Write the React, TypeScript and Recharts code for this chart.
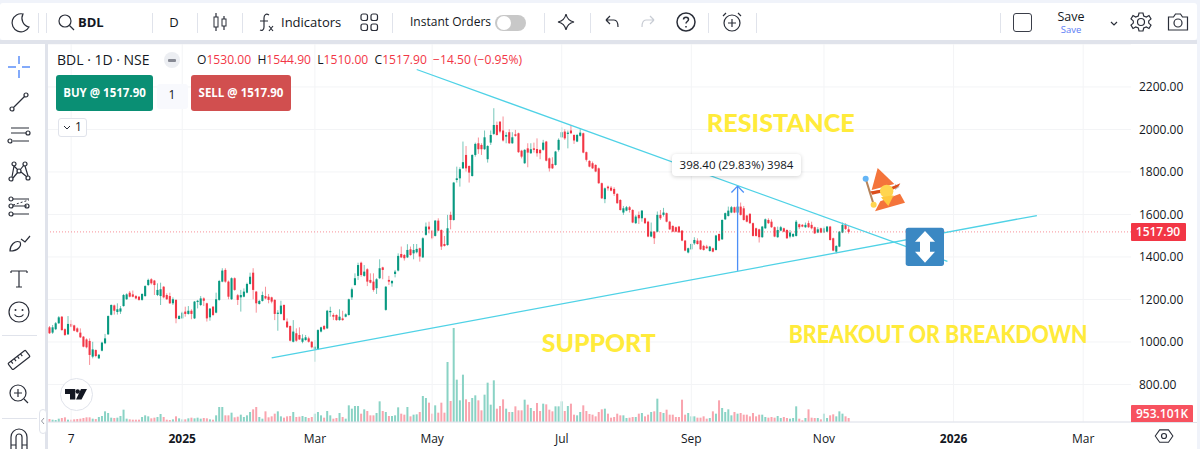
import { Bar, CartesianGrid, ComposedChart, ReferenceDot, ReferenceLine, XAxis, YAxis } from "recharts";

const opens = [
  1069,1044,1060,1088,1119,1060,1036,1085,1078,1064,1044,1025,1012,1005,931,962,923,959,994,1036,
  1128,1172,1141,1143,1169,1201,1232,1224,1216,1213,1198,1216,1268,1295,1289,1221,1216,1260,1221,1216,
  1182,1198,1108,1111,1143,1132,1147,1111,1188,1174,1205,1182,1116,1166,1138,1198,1284,1339,1284,1201,
  1300,1220,1210,1213,1232,1273,1326,1237,1179,1193,1216,1213,1210,1198,1132,1132,1174,1096,1075,1001,
  1041,1033,1001,1009,1017,1001,965,965,1049,1075,1064,1140,1127,1127,1103,1111,1119,1127,1210,1268,
  1311,1373,1311,1342,1292,1284,1253,1300,1351,1151,1292,1276,1320,1336,1414,1409,1398,1436,1417,1422,
  1441,1398,1504,1543,1524,1499,1571,1527,1461,1456,1598,1574,1762,1770,1817,1880,1828,1781,1880,1935,
  1927,1907,1860,1938,1979,2021,2037,1995,1966,1987,1935,1977,1982,1900,1841,1911,1888,1911,1908,1904,
  1904,1943,1864,1838,1833,1904,1963,1990,1979,1995,1974,1943,1970,1982,1893,1852,1841,1833,1817,1747,
  1672,1731,1726,1720,1697,1668,1609,1618,1634,1621,1559,1598,1582,1582,1566,1496,1519,1519,1598,1598,
  1606,1566,1546,1540,1543,1524,1477,1421,1436,1464,1477,1477,1452,1449,1428,1441,1433,1508,1483,1577,
  1593,1609,1634,1609,1637,1629,1595,1603,1559,1535,1530,1493,1535,1574,1566,1540,1493,1524,1535,1527,
  1496,1496,1499,1554,1551,1540,1559,1551,1540,1515,1535,1515,1519,1543,1488,1425,1449,1515,1551,1530,
];
const highs = [
  1075,1080,1094,1122,1122,1064,1122,1103,1081,1069,1064,1028,1017,1017,1001,965,943,1001,1038,1125,
  1177,1176,1182,1169,1226,1229,1240,1242,1221,1216,1229,1267,1298,1300,1292,1276,1279,1263,1229,1232,
  1210,1201,1127,1143,1166,1169,1154,1193,1198,1216,1210,1185,1160,1169,1232,1292,1347,1347,1289,1304,
  1304,1226,1245,1252,1279,1326,1347,1240,1198,1237,1260,1226,1213,1201,1150,1194,1177,1111,1078,1103,
  1064,1069,1036,1033,1025,1005,1009,1060,1072,1080,1151,1166,1135,1130,1154,1147,1135,1204,1256,1323,
  1373,1378,1362,1347,1323,1323,1300,1389,1354,1263,1311,1291,1339,1417,1449,1414,1460,1449,1461,1461,
  1444,1493,1562,1566,1527,1574,1582,1530,1499,1598,1613,1753,1825,1822,1943,1922,1831,1883,1938,1962,
  1935,1995,1926,1995,2100,2037,2037,2061,1987,2001,1987,1998,1985,1904,1907,1935,1935,1938,1958,1907,
  1951,1946,1868,1869,1899,1958,2010,2001,1995,2021,1977,1979,2001,1985,1896,1855,1849,1836,1821,1750,
  1727,1736,1734,1728,1700,1672,1640,1640,1640,1625,1598,1614,1621,1585,1570,1562,1522,1614,1621,1631,
  1609,1570,1549,1543,1546,1527,1480,1444,1464,1493,1488,1480,1457,1457,1452,1444,1504,1511,1577,1609,
  1637,1640,1637,1640,1656,1640,1598,1606,1562,1538,1533,1546,1581,1582,1577,1543,1543,1546,1538,1530,
  1527,1512,1574,1557,1555,1562,1571,1566,1543,1540,1538,1543,1546,1546,1491,1455,1522,1562,1559,1544.9,
];
const lows = [
  1038,1038,1056,1085,1053,1028,1033,1069,1050,1044,1019,975,970,892,923,928,920,956,990,1033,
  1125,1129,1129,1132,1166,1198,1210,1210,1201,1194,1194,1213,1263,1270,1221,1216,1174,1205,1198,1179,
  1174,1088,1107,1110,1119,1129,1107,1108,1158,1169,1169,1096,1100,1122,1135,1194,1281,1279,1201,1198,
  1241,1174,1143,1210,1229,1270,1201,1138,1176,1190,1201,1182,1182,1103,1053,1129,1100,1066,1003,998,
  1001,1009,994,1006,997,970,907,962,1045,1056,1061,1119,1103,1100,1100,1100,1116,1124,1198,1265,
  1292,1307,1307,1263,1276,1237,1226,1296,1295,1147,1268,1260,1304,1332,1395,1383,1395,1406,1389,1417,
  1378,1395,1500,1511,1483,1496,1521,1433,1449,1453,1530,1571,1750,1731,1814,1802,1750,1778,1872,1885,
  1880,1904,1844,1927,1974,1971,1982,1943,1935,1932,1932,1966,1890,1864,1838,1822,1885,1891,1872,1860,
  1900,1850,1802,1814,1830,1896,1960,1951,1911,1979,1932,1940,1966,1888,1849,1822,1814,1799,1744,1673,
  1653,1712,1709,1687,1650,1618,1598,1615,1609,1559,1555,1555,1566,1555,1493,1493,1461,1516,1574,1590,
  1563,1527,1516,1516,1513,1474,1427,1417,1433,1457,1458,1433,1430,1438,1425,1422,1430,1474,1480,1574,
  1590,1606,1606,1606,1595,1571,1563,1555,1496,1496,1468,1490,1532,1555,1537,1493,1490,1521,1516,1485,
  1488,1493,1496,1531,1540,1537,1537,1530,1508,1512,1512,1512,1516,1477,1427,1417,1446,1512,1527,1510,
];
const closes = [
  1041,1069,1088,1116,1056,1033,1085,1072,1053,1048,1022,978,975,939,965,934,940,997,1017,1122,
  1174,1147,1154,1158,1221,1224,1213,1213,1205,1198,1226,1263,1292,1276,1268,1245,1248,1210,1201,1182,
  1201,1111,1122,1138,1132,1147,1132,1190,1194,1205,1194,1111,1157,1127,1201,1287,1336,1284,1213,1300,
  1245,1198,1221,1237,1273,1307,1245,1182,1193,1221,1205,1198,1190,1132,1138,1171,1103,1069,1006,1049,
  1006,1012,1017,1022,1001,975,978,1056,1069,1060,1147,1146,1119,1103,1119,1103,1130,1201,1248,1300,
  1362,1315,1331,1284,1279,1245,1295,1347,1339,1260,1284,1287,1331,1405,1398,1394,1433,1409,1433,1438,
  1402,1488,1543,1530,1488,1571,1524,1449,1452,1535,1574,1750,1770,1813,1846,1817,1797,1880,1932,1907,
  1907,1963,1922,1974,2021,1974,1990,1948,1974,1935,1963,1970,1893,1872,1904,1891,1907,1904,1888,1888,
  1938,1853,1817,1817,1896,1951,1987,1958,1985,1982,1948,1974,1985,1891,1857,1825,1817,1802,1747,1676,
  1723,1723,1712,1697,1653,1621,1629,1634,1621,1562,1590,1582,1618,1559,1496,1519,1488,1598,1582,1609,
  1566,1530,1519,1519,1516,1477,1430,1441,1461,1480,1461,1436,1433,1441,1449,1425,1501,1477,1574,1606,
  1618,1634,1609,1637,1598,1574,1566,1559,1499,1499,1493,1543,1577,1559,1540,1496,1527,1540,1519,1488,
  1515,1508,1566,1540,1543,1551,1540,1535,1511,1530,1515,1535,1543,1480,1430,1452,1519,1551,1532,1517.9,
];
// volume in thousands of shares
const volumes = [
  720,560,480,800,960,1120,560,560,640,720,800,960,1120,1120,800,720,1200,1440,2560,2160,
  1040,960,1040,1440,2960,800,640,560,560,560,1200,1600,1360,880,1040,1200,1920,1200,560,480,
  640,1360,880,640,640,880,1040,880,1040,800,960,880,640,560,1600,3600,3600,1600,1600,2240,
  1120,1280,1760,1200,1600,2400,3040,3600,1200,800,2560,1120,1360,2000,2560,1360,1040,1360,1440,2400,
  1200,1280,1440,1200,960,1200,2000,2400,1600,1040,2640,1600,800,960,2160,1200,800,4000,3200,3840,
  3840,2000,3040,2640,1600,1600,2160,4960,2640,2400,1440,1440,1600,3520,2000,1760,3600,1360,1760,1840,
  2400,6240,5760,4640,2000,4000,2240,4640,2240,14400,5040,22560,10160,5200,11360,5440,4800,5760,6400,5200,
  2800,6560,9440,4160,10000,3200,3840,5440,3200,2400,2400,3760,2800,2800,5360,4160,3360,2640,4560,2640,
  4400,4240,2960,2560,3760,3760,4960,2640,3840,4400,1760,1600,2400,4000,2640,1920,1760,1360,2400,3040,
  3200,2000,1040,1200,2000,1600,1600,960,1040,1200,1200,2000,2160,1360,1760,2400,2560,5600,2400,2160,
  2960,1760,1760,1200,1200,5360,1760,2160,1360,1360,1040,1040,1360,800,960,2560,2000,5200,3360,2400,
  3040,1600,2400,2000,2160,1760,1760,1360,2160,1360,1760,1760,1200,1040,1200,1040,1440,960,1200,960,
  800,960,3760,800,400,960,3040,1040,960,960,640,2000,960,1600,1840,1360,2560,2000,1360,953.101,
];

const priceTicks = [800, 1000, 1200, 1400, 1600, 1800, 2000, 2200];
const timeTicks = [7, 43, 86, 124, 166, 208, 251, 293, 335];
const timeLabels = ["7", "2025", "Mar", "May", "Jul", "Sep", "Nov", "2026", "Mar"];
const yearLabels = ["2025", "2026"];
const barSlots = 351;
const lastClose = 1517.9;
const priceDomain = [623.5, 2402];
const volumeDomain = [0, 90720];

const supportLine = [{ x: 72, y: 925 }, { x: 320, y: 1595 }];
const resistanceLine = [{ x: 119, y: 2282 }, { x: 291, y: 1379 }];
const measureArrow = [{ x: 223, y: 1335 }, { x: 223, y: 1733.4 }];
const measureHead = [{ x: 221, y: 1703 }, { x: 223, y: 1733.4 }, { x: 225, y: 1703 }];

const rows = Array.from({ length: barSlots }, (_, i) =>
  i < opens.length
    ? {
        idx: i,
        open: opens[i],
        high: highs[i],
        low: lows[i],
        close: closes[i],
        range: [lows[i], highs[i]],
        volume: volumes[i],
      }
    : { idx: i },
);

const UP = "#089981";
const DOWN = "#f23645";
const FONT = "'Open Sans', sans-serif";
const INK = "#131722";
const TREND = "#4fd2e6";
const MEASURE = "#4d8ff7";
const GRID = "#f3f4f6";

const Candle = (props: any) => {
  const { x, y, width, height, payload } = props;
  if (payload == null || payload.open == null) return null;
  const { open, high, low, close } = payload;
  const color = close >= open ? UP : DOWN;
  const unit = Math.abs(height) / (high - low);
  const cx = x + width / 2;
  const top = y + (high - Math.max(open, close)) * unit;
  const bodyHeight = Math.max(Math.abs(open - close) * unit, 1);
  return (
    <g>
      <rect x={cx - 0.5} y={y} width={1} height={Math.abs(height)} fill={color} opacity={0.55} />
      <rect x={cx - 1.05} y={top} width={2.1} height={bodyHeight} fill={color} />
    </g>
  );
};

const VolumeBar = (props: any) => {
  const { x, y, width, height, payload } = props;
  if (payload == null || payload.open == null) return null;
  const color = payload.close >= payload.open ? "#8ad3c5" : "#f9a4ae";
  return <rect x={x + width / 2 - 1} y={y} width={2} height={height} fill={color} />;
};

const TimeTick = (props: any) => {
  const { x, y, payload } = props;
  const label = timeLabels[timeTicks.indexOf(payload.value)];
  const isYear = yearLabels.includes(label);
  return (
    <text x={x} y={y + 13} textAnchor="middle" fontFamily={FONT} fontSize={12} fontWeight={isYear ? 700 : 400} fill={INK}>
      {label}
    </text>
  );
};

const NoteText = ({ viewBox, text, size, length }: any) => (
  <text
    x={viewBox.x}
    y={viewBox.y}
    textAnchor="middle"
    dominantBaseline="central"
    fill="#ffeb3b"
    fontSize={size}
    fontWeight={900}
    fontFamily="Lato, sans-serif"
    textLength={length}
    lengthAdjust="spacingAndGlyphs"
  >
    {text}
  </text>
);

const Note = (x: number, y: number, text: string, size: number, length: number) => (
  <ReferenceDot
    xAxisId="time"
    yAxisId="price"
    x={x}
    y={y}
    r={0}
    stroke="none"
    fill="none"
    label={<NoteText text={text} size={size} length={length} />}
  />
);

const Seg = (pts: { x: number; y: number }[], color: string) => (
  <ReferenceLine xAxisId="time" yAxisId="price" segment={pts} stroke={color} strokeWidth={1.3} />
);

const PriceChart = () => (
  <ComposedChart
    width={1149}
    height={405}
    data={rows}
    margin={{ top: 0, right: 0, bottom: 0, left: 0 }}
    barCategoryGap={0}
    barGap={0}
  >
    <CartesianGrid xAxisId="time" yAxisId="price" stroke={GRID} vertical={false} />
    {timeTicks.map((t) => (
      <ReferenceLine key={t} xAxisId="time" yAxisId="price" x={t} stroke={GRID} />
    ))}
    <XAxis
      xAxisId="time"
      dataKey="idx"
      type="category"
      scale="band"
      ticks={timeTicks}
      interval={0}
      height={27}
      axisLine={{ stroke: "#e0e3eb" }}
      tickLine={false}
      tick={<TimeTick />}
    />
    <XAxis xAxisId="volume" dataKey="idx" type="category" scale="band" hide />
    <YAxis
      yAxisId="price"
      orientation="right"
      width={66}
      domain={priceDomain}
      ticks={priceTicks}
      interval={0}
      axisLine={false}
      tickLine={false}
      tickFormatter={(v: number) => v.toFixed(2)}
      tick={{ fontSize: 12, fill: INK, fontFamily: FONT }}
    />
    <YAxis yAxisId="volume" hide domain={volumeDomain} />
    <Bar xAxisId="volume" yAxisId="volume" dataKey="volume" barSize={3} shape={<VolumeBar />} isAnimationActive={false} />
    <Bar xAxisId="time" yAxisId="price" dataKey="range" barSize={3} shape={<Candle />} isAnimationActive={false} />
    <ReferenceLine xAxisId="time" yAxisId="price" y={lastClose} stroke="#f23645" strokeOpacity={0.55} strokeDasharray="1 2" />
    {Seg(supportLine, TREND)}
    {Seg(resistanceLine, TREND)}
    {Seg(measureArrow, MEASURE)}
    {Seg([measureHead[0], measureHead[1]], MEASURE)}
    {Seg([measureHead[1], measureHead[2]], MEASURE)}
    {Note(237, 2035, "RESISTANCE", 25, 148)}
    {Note(178, 1000, "SUPPORT", 25, 114)}
    {Note(288, 1038, "BREAKOUT OR BREAKDOWN", 24, 299)}
  </ComposedChart>
);

const line = { fill: "none", stroke: "#2a2e39", strokeWidth: 1.2 };

const Ico = ({ x, y, w = 24, h = 24, children }: any) => (
  <svg style={{ position: "absolute", left: x - w / 2, top: y - h / 2 }} width={w} height={h} viewBox={`0 0 ${w} ${h}`}>
    {children}
  </svg>
);

const Label = ({ x, y, text, size = 13, weight = 400, color = INK, align = "left" }: any) => (
  <div
    style={{
      position: "absolute",
      left: align === "center" ? x - 100 : x,
      width: align === "center" ? 200 : undefined,
      textAlign: align,
      top: y - 10,
      height: 20,
      lineHeight: "20px",
      fontSize: size,
      fontWeight: weight,
      color,
      whiteSpace: "nowrap",
      fontFamily: FONT,
    }}
  >
    {text}
  </div>
);

const Box = ({ x, y, w, h, bg, r = 0, border, style }: any) => (
  <div
    style={{
      position: "absolute",
      left: x,
      top: y,
      width: w,
      height: h,
      background: bg,
      borderRadius: r,
      border,
      boxSizing: "border-box",
      ...style,
    }}
  />
);

const Sep = ({ x }: { x: number }) => <Box x={x} y={13} w={1} h={20} bg="#e0e3eb" />;

const TopBar = () => (
  <>
    <Ico x={20} y={22}><path d="M15 4a9 9 0 1 0 6 13 9 9 0 0 1-6-13z" {...line} /></Ico>
    <Sep x={38} />
    <Sep x={46} />
    <Ico x={66} y={22}><circle cx={11} cy={11} r={6} {...line} /><path d="M15.5 15.5l4.5 4.5" {...line} /></Ico>
    <Label x={78} y={22} text="BDL" weight={700} size={13} />
    <Sep x={152} />
    <Label x={174} y={22} text="D" size={13} align="center" />
    <Sep x={197} />
    <Ico x={220} y={22}>
      <path d="M8 3v18M16 6v14" {...line} />
      <rect x={6} y={7} width={4} height={10} fill="#fff" stroke="#2a2e39" />
      <rect x={14} y={9} width={4} height={7} fill="#fff" stroke="#2a2e39" />
    </Ico>
    <Sep x={242} />
    <Ico x={265} y={22}>
      <path d="M16 5c-3-2-5 0-5 3v9c0 3-2 4-4 3M7 11h8M16 16l4 5M20 16l-4 5" {...line} />
    </Ico>
    <Label x={281} y={22} text="Indicators" size={13} />
    <Ico x={369} y={22}>
      <rect x={4} y={4} width={6.5} height={6.5} rx={2} {...line} />
      <rect x={14} y={4} width={6.5} height={6.5} rx={2} {...line} />
      <rect x={4} y={14} width={6.5} height={6.5} rx={2} {...line} />
      <rect x={14} y={14} width={6.5} height={6.5} rx={2} {...line} />
    </Ico>
    <Sep x={392} />
    <Label x={410} y={22} text="Instant Orders" size={12} />
    <Box x={495} y={15} w={31} h={16} bg="#c8c8c8" r={8} />
    <Box x={497} y={16} w={14} h={14} bg="#fff" r={7} />
    <Sep x={544} />
    <Ico x={566} y={22}><path d="M12 4c1 5 3 7 8 8-5 1-7 3-8 8-1-5-3-7-8-8 5-1 7-3 8-8z" {...line} /></Ico>
    <Sep x={590} />
    <Ico x={612} y={22}><path d="M6 10l4-4M6 10l4 4M6 10h8c3 0 4 3 4 7" {...line} /></Ico>
    <Ico x={648} y={22}><path d="M18 10l-4-4M18 10l-4 4M18 10h-8c-3 0-4 3-4 7" {...line} stroke="#c8ccd4" /></Ico>
    <Ico x={686} y={22}>
      <circle cx={12} cy={12} r={9} {...line} strokeWidth={1.5} />
      <path d="M9.5 9.5c0-3 5-3 5 0 0 2-2.5 2-2.5 4M12 16v1.5" {...line} strokeWidth={1.5} />
    </Ico>
    <Sep x={708} />
    <Ico x={732} y={22}>
      <circle cx={12} cy={13} r={8} {...line} />
      <path d="M12 9v8M8 13h8M3 6l3-3M21 6l-3-3" {...line} />
    </Ico>
    <Sep x={756} />
    <Sep x={1000} />
    <Box x={1013} y={13} w={19} h={19} r={3} border="1.5px solid #3a3e49" />
    <Label x={1071} y={17} text="Save" size={12.5} align="center" />
    <Label x={1071} y={30} text="Save" size={9.5} color="#5b7cf6" align="center" />
    <Ico x={1114} y={23}><path d="M9 11l3 3 3-3" {...line} /></Ico>
    <Ico x={1141} y={22}>
      <circle cx={12} cy={12} r={3.5} {...line} />
      <path d="M10 3h4l.7 3 2.6 1.1 2.7-1.6 2 3.4-2.3 2v2.2l2.3 2-2 3.4-2.7-1.6-2.6 1.1-.7 3h-4l-.7-3-2.6-1.1-2.7 1.6-2-3.4 2.3-2v-2.2l-2.3-2 2-3.4 2.7 1.6 2.6-1.1z" {...line} />
    </Ico>
    <Ico x={1178} y={22}>
      <path d="M3 7h5l2-3h5l2 3h5v13H3z" {...line} transform="translate(-0.5 0)" />
      <circle cx={12} cy={13} r={4} {...line} />
    </Ico>
  </>
);

const SideBar = () => (
  <>
    <Ico x={19} y={67}>
      <path d="M12 1v8M12 15v8M1 12h8M15 12h8" fill="none" stroke="#5b8ff9" strokeWidth={1.5} />
    </Ico>
    <Ico x={19} y={102}>
      <circle cx={5} cy={19} r={2} {...line} /><circle cx={19} cy={5} r={2} {...line} /><path d="M6.5 17.5l11-11" {...line} />
    </Ico>
    <Ico x={19} y={135}>
      <path d="M4 5h18M4 10h15M6 18h16" {...line} /><circle cx={21} cy={10} r={2} {...line} /><circle cx={3} cy={18} r={2} {...line} />
    </Ico>
    <Ico x={19} y={171}>
      <circle cx={4} cy={20} r={2} {...line} /><circle cx={7} cy={5} r={2} {...line} /><circle cx={12} cy={12} r={2} {...line} /><circle cx={18} cy={5} r={2} {...line} /><circle cx={21} cy={19} r={2} {...line} />
      <path d="M5 18l2-11 4 4M6 19l5-6M13 11l4-5M14 13l6 5M18 7l3 10" {...line} />
    </Ico>
    <Ico x={19} y={207}>
      <path d="M6 4h16M6 11h14M6 19h16" {...line} />
      <path d="M6 10l16-5" fill="none" stroke="#2a2e39" strokeDasharray="2 2" />
      <circle cx={4} cy={4} r={2} {...line} /><circle cx={4} cy={11} r={2} {...line} /><circle cx={4} cy={19} r={2} {...line} /><circle cx={20} cy={11} r={2} {...line} />
    </Ico>
    <Ico x={19} y={242}>
      <path d="M3 21c0-6 5-11 10-9 2 4-2 9-10 9zM14 9l4 3 5-6" {...line} />
    </Ico>
    <Ico x={19} y={278}><path d="M4 5h16M12 5v16M9 21h6M4 5v2M20 5v2" {...line} /></Ico>
    <Ico x={19} y={312}>
      <circle cx={12} cy={12} r={10} {...line} />
      <circle cx={8.5} cy={10} r={1} fill="#2a2e39" /><circle cx={15.5} cy={10} r={1} fill="#2a2e39" />
      <path d="M7.5 14.5c2 3 7 3 9 0" {...line} />
    </Ico>
    <Box x={2} y={335} w={35} h={1} bg="#e0e3eb" />
    <Ico x={19} y={360}>
      <g transform="rotate(-38 12 12)">
        <rect x={1} y={8} width={22} height={8} rx={1} {...line} />
        <path d="M5 8v3M9 8v3M13 8v3M17 8v3" {...line} />
      </g>
    </Ico>
    <Ico x={19} y={394}>
      <circle cx={11} cy={11} r={8} {...line} /><path d="M11 7v8M7 11h8M17 17l4 4" {...line} />
    </Ico>
    <Box x={2} y={418} w={35} h={1} bg="#e0e3eb" />
    <Ico x={19} y={438}>
      <path d="M4 24V11a8 8 0 0 1 16 0v13M9 24V11a3 3 0 0 1 6 0v13M4 19h5M15 19h5" {...line} />
    </Ico>
    <Box x={39} y={409} w={8} h={25} bg="#fff" r={4} border="1px solid #e0e3eb" />
    <Ico x={43} y={421} w={8} h={10}><path d="M5 2L2.5 5 5 8" fill="none" stroke="#9598a1" /></Ico>
  </>
);

const Legend = () => (
  <>
    <Label x={57} y={60} text="BDL · 1D · NSE" size={14} />
    <Box x={164} y={52} w={16} h={16} r={8} bg="#eceef2" />
    <Box x={168} y={59} w={8} h={2.5} r={1} bg="#868993" />
    <Label
      x={197}
      y={60}
      size={12.1}
      text={
        <span style={{ color: DOWN, whiteSpace: "pre" }}>
          <span style={{ color: INK }}>O</span>1530.00 <span style={{ color: INK }}>&nbsp;H</span>1544.90 <span style={{ color: INK }}>&nbsp;L</span>1510.00 <span style={{ color: INK }}>&nbsp;C</span>1517.90 &nbsp;−14.50 (−0.95%)
        </span>
      }
    />
    <Box x={56} y={75} w={97} h={36} r={3} bg="#0a8f74" />
    <Label x={104.5} y={93} text="BUY @ 1517.90" size={11.5} weight={700} color="#fff" align="center" />
    <Box x={157} y={84} w={31} h={25} r={3} bg="#f8f9fd" />
    <Label x={172} y={95} text="1" size={12} align="center" />
    <Box x={191} y={75} w={100} h={36} r={3} bg="#d14f4f" />
    <Label x={241} y={93} text="SELL @ 1517.90" size={11.5} weight={700} color="#fff" align="center" />
    <Box x={58} y={118} w={29} h={19} r={3} border="1px solid #e0e3eb" bg="#fff" />
    <Ico x={67} y={128} w={10} h={10}><path d="M2 3l3 3 3-3" fill="none" stroke="#2a2e39" /></Ico>
    <Label x={75} y={127} text="1" size={12} />
  </>
);

const Overlays = () => (
  <>
    <Box x={672} y={154} w={129} h={22} r={4} bg="#fff" style={{ boxShadow: "0 1px 4px rgba(0,0,0,.18)" }} />
    <Label x={736.5} y={165} text="398.40 (29.83%) 3984" size={11.5} align="center" />
    <Box x={1131} y={223} w={55} h={18} r={1} bg="#f23645" />
    <Label x={1158} y={232} text="1517.90" size={12} color="#fff" align="center" weight={600} />
    <Box x={1131} y={405} w={62} h={18} r={1} bg="#f7525f" />
    <Label x={1162} y={414} text="953.101K" size={12} color="#fff" align="center" weight={600} />
    <Box x={1131} y={422} w={66} h={1} bg="#e0e3eb" />
    <Ico x={1164} y={436}>
      <path d="M7 5h10l5 7-5 7H7l-5-7z" {...line} transform="translate(1.5 1.5) scale(.88)" />
      <circle cx={12} cy={12} r={2.5} {...line} />
    </Ico>
    <svg style={{ position: "absolute", left: 855, top: 162 }} width={60} height={55} viewBox="0 0 180 165">
      <path d="M32 50L56 128" stroke="#b5835a" strokeWidth={6} />
      <path d="M60 148L76 118L135 95L150 122Z" fill="#f4743b" />
      <path d="M120 66L134 74L120 84Z" fill="#bdbdbd" />
      <path d="M68 18L50 84L118 66Z" fill="#f4743b" />
      <path d="M46 88C70 86 105 78 136 64C132 74 124 78 116 82C90 90 66 96 52 98Z" fill="#dc4e1c" />
      <circle cx={95} cy={88} r={20} fill="#ffd54f" />
      <path d="M78 106L116 100L100 132Z" fill="#ffc83d" />
      <circle cx={32} cy={50} r={9} fill="#64b5f6" />
      <circle cx={56} cy={128} r={9} fill="#ffd54f" />
    </svg>
    <svg style={{ position: "absolute", left: 840, top: 160 }} width={120} height={110} viewBox="0 0 360 330">
      <rect x={197} y={203} width={115} height={115} rx={8} fill="#3b88c3" />
      <path d="M255 213l30 32h-15v30h15l-30 33-30-33h15v-30h-15z" fill="#fff" />
    </svg>
    <Box x={60} y={378} w={33} h={33} r={17} bg="#fff" border="1.5px solid #e0e3eb" />
    <Ico x={76} y={394} w={22} h={14}>
      <path d="M0 2h10.3v10.6H5V7H0ZM16 2h6L16.5 12.6H11Z" fill="#131722" />
      <circle cx={12.7} cy={4.5} r={2.2} fill="#131722" />
    </Ico>
  </>
);

export default function App() {
  return (
    <div style={{ position: "absolute", left: 0, top: 0, width: 1200, height: 449, overflow: "hidden", background: "#f0f3fa" }}>
      <Box x={0} y={3} w={1197} h={37} bg="#fff" r={3} />
      <Box x={0} y={40} w={1197} h={4} bg="#e0e3eb" />
      <Box x={0} y={44} w={45} h={405} bg="#fff" />
      <Box x={45} y={44} w={3} h={405} bg="#e0e3eb" />
      <Box x={48} y={44} w={1149} h={405} bg="#fff" />
      <div style={{ position: "absolute", left: 48, top: 44 }}>
        <PriceChart />
      </div>
      <TopBar />
      <SideBar />
      <Legend />
      <Overlays />
    </div>
  );
}
